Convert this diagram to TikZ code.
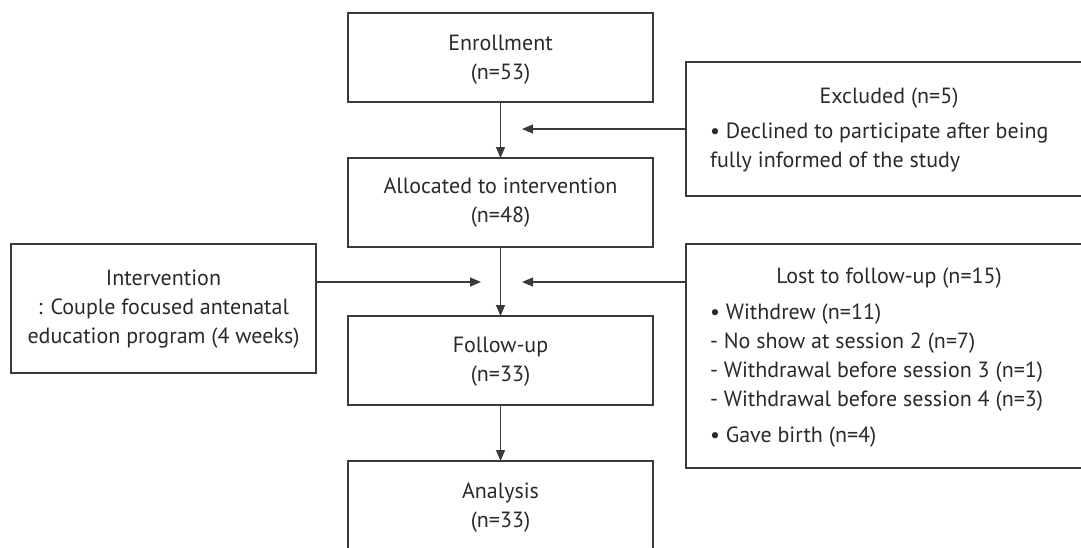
\documentclass[tikz,border=0pt]{standalone}
\usepackage{fontspec}
\setmainfont{PT Sans}
\usetikzlibrary{arrows.meta}
\definecolor{linec}{HTML}{3A3A3A}
\definecolor{textc}{HTML}{2A2A2A}
\begin{document}
\begin{tikzpicture}[x=1pt,y=-1pt,
  box/.style={draw=linec, line width=1.3pt, inner sep=0pt, outer sep=0pt},
  cbox/.style={box, minimum width=305pt, minimum height=89pt},
  lbl/.style={text=textc, font=\fontsize{22}{29}\selectfont, inner sep=0pt, outer sep=0pt},
  arr/.style={draw=linec, line width=1.2pt, -{Triangle[length=11pt,width=9pt]}}]
\clip (0,0) rectangle (1081,547);
\fill[white] (0,0) rectangle (1081,547);
% main column
\node[cbox] (enroll) at (500.5,57.5) {};
\node[cbox] (alloc) at (500.5,202.5) {};
\node[cbox] (follow) at (500.5,360.5) {};
\node[cbox] (analysis) at (500.5,505.5) {};
\node[box, minimum width=305pt, minimum height=129pt] (interv) at (163.5,308.5) {};
\node[box, minimum width=406pt, minimum height=134pt] (excl) at (889,129) {};
\node[box, minimum width=406pt, minimum height=224pt] (lost) at (889,356) {};
% texts (anchored at the baseline of their last line)
\node[lbl, anchor=base, align=center] (tenroll) at (500.5,79) {Enrollment\\(n=53)};
\node[lbl, anchor=base, align=center] (talloc) at (500.5,222) {Allocated to intervention\\(n=48)};
\node[lbl, anchor=base, align=center] (tfollow) at (500.5,381) {Follow-up\\(n=33)};
\node[lbl, anchor=base, align=center] (tanalysis) at (500.5,527) {Analysis\\(n=33)};
\node[lbl, anchor=base, align=center] (tinterv) at (163.5,343) {Intervention\\: Couple focused antenatal\\education program (4 weeks)};
\node[lbl, anchor=base] (texcltitle) at (889,103) {Excluded (n=5)};
\node[lbl, anchor=base west, align=left] (texcl) at (710,167) {• Declined to participate after being\\fully informed of the study};
\node[lbl, anchor=base] (tlosttitle) at (889,283) {Lost to follow-up (n=15)};
\node[lbl, anchor=base west, align=left] (tlost) at (710,442) {• Withdrew (n=11)\\- No show at session 2 (n=7)\\- Withdrawal before session 3 (n=1)\\- Withdrawal before session 4 (n=3)\\[7pt]• Gave birth (n=4)};
% connector end points
\coordinate (ex) at (522,129);
\coordinate (il) at (481,282);
\coordinate (ir) at (522,282);
% connectors
\draw[arr] (enroll.south) -- (alloc.north);
\draw[arr] (excl.west) -- (ex);
\draw[arr] (alloc.south) -- (follow.north);
\draw[arr] (interv.east |- il) -- (il);
\draw[arr] (lost.west |- ir) -- (ir);
\draw[arr] (follow.south) -- (analysis.north);
\end{tikzpicture}
\end{document}
